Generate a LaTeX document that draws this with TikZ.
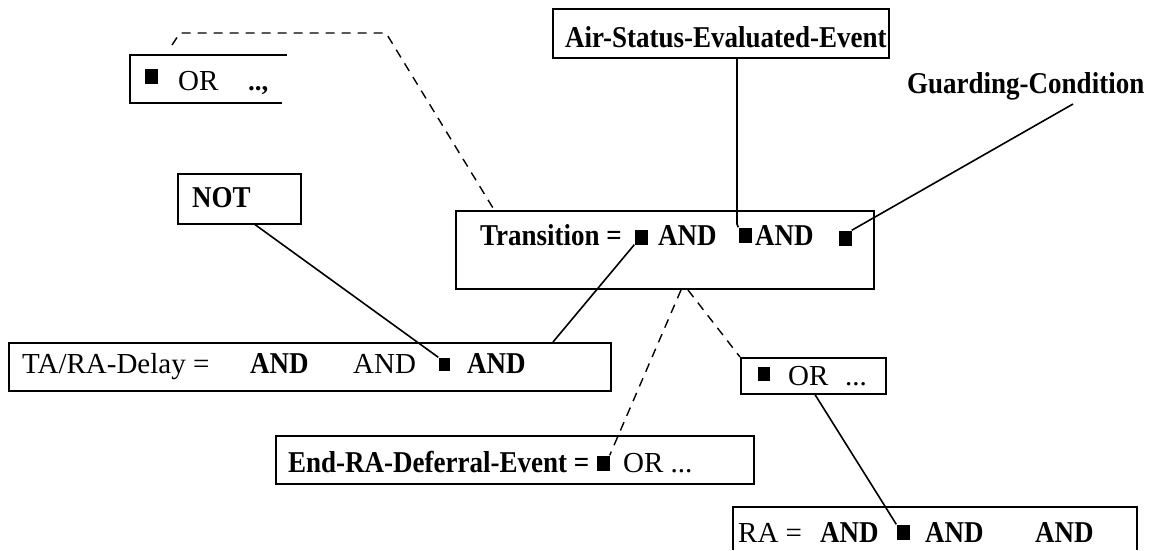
\documentclass[tikz,border=0pt]{standalone}
\usepackage{fontspec}
\setmainfont{Liberation Serif}
\begin{document}
\begin{tikzpicture}[x=1pt,y=-1pt,
  frame/.style={draw, line width=1.6pt, inner sep=0pt, anchor=north west},
  link/.style={line width=1.6pt},
  dlink/.style={line width=1.4pt, dash pattern=on 9pt off 7pt},
  blk/.style={fill=black, minimum width=13pt, minimum height=15pt, inner sep=0pt},
  bl/.style={anchor=base west, inner sep=0pt, font=\fontsize{27}{30}\selectfont\bfseries},
  rl/.style={anchor=base west, inner sep=0pt, font=\fontsize{29}{30}\selectfont}]
\useasboundingbox (0,0) rectangle (1165,550);

% ---- boxes ----
\node[frame, minimum width=336pt, minimum height=49pt] (air)   at (552,8)   {};
\node[frame, minimum width=418pt, minimum height=78pt] (trans) at (455,210) {};
\node[frame, minimum width=123pt, minimum height=50pt] (notb)  at (177,173) {};
\node[frame, minimum width=602pt, minimum height=48pt] (tabox) at (8,342)   {};
\node[frame, minimum width=478pt, minimum height=48pt] (endb)  at (275,435) {};
\node[frame, minimum width=145pt, minimum height=36pt] (orb)   at (740,357) {};
% open-ended boxes
\draw[line width=1.6pt] (287,55) -- (130,55) -- (130,103) -- (282,103);
\draw[line width=1.6pt] (733,550) -- (733,507) -- (1137,507) -- (1137,550);

% ---- texts ----
\newcommand{\tall}[1]{\scalebox{1}[1.12]{#1}}
\node[bl] (airt) at (565,47) {\tall{Air-Status-Evaluated-Event}};
\node[bl] (guard) at (907,93) {\tall{Guarding-Condition}};
\node[bl] (nott) at (192,207) {\tall{NOT}};

\node[blk] (sqor1) at (151,76) {};
\node[rl] (or1) at (178,90) {OR};
\node[bl] (or1d) at (248,90) {..,};

\node[bl] (transt) at (480,245) {\tall{Transition =}};
\node[blk] (sq1) at (641,237) {};
\node[bl] (and1) at (658,245) {\tall{AND}};
\node[blk] (sq2) at (745,235) {};
\node[bl] (and2) at (755,245) {\tall{AND}};
\node[blk] (sq3) at (845,238) {};

\node[rl] (tat) at (22,373) {TA/RA-Delay =};
\node[bl] (taand1) at (250,373) {\tall{AND}};
\node[rl] (taand2) at (353,373) {AND};
\node[blk, minimum width=11pt, minimum height=13pt] (sqta) at (444,364) {};
\node[bl] (taand3) at (467,373) {\tall{AND}};

\node[bl] (endt) at (288,472) {\tall{End-RA-Deferral-Event =}};
\node[blk] (sqend) at (603,463) {};
\node[rl] (endor) at (623,472) {OR ...};

\node[blk, minimum width=12pt, minimum height=14pt] (sqor2) at (764,374) {};
\node[rl] (or2) at (788,385) {OR};
\node[rl] (or2d) at (845,385) {...};

\node[rl] (rat) at (738,542) {RA =};
\node[bl] (raand1) at (820,542) {\tall{AND}};
\node[blk] (sqra) at (903,532) {};
\node[bl] (raand2) at (925,542) {\tall{AND}};
\node[bl] (raand3) at (1035,542) {\tall{AND}};

% ---- connector ends ----
\coordinate (g1)   at (1073,104);
\coordinate (e1)   at (553,342);
\coordinate (apex) at (681,290);
\coordinate (apr)  at (688,290);
\coordinate (d0)   at (172,45);
\coordinate (d1)   at (180,33);
\coordinate (d2)   at (386,33);
\coordinate (d3)   at (493,208);

% ---- connectors ----
\draw[link] (air.south -| 737,0) -- (737,224) -- (sq2.north west);
\draw[link] (g1) -- (sq3.north east);
\draw[link] (notb.south -| 255,0) -- (sqta.north west);
\draw[link] (sq1.south west) -- (e1);
\draw[link] (orb.south -| 815,0) -- (sqra.north west);
\draw[dlink] (apex) -- (sqend.north east);
\draw[dlink] (apr) -- (orb.north west);
\draw[dlink] (d0) -- (d1) -- (d2) -- (d3);
\end{tikzpicture}
\end{document}
